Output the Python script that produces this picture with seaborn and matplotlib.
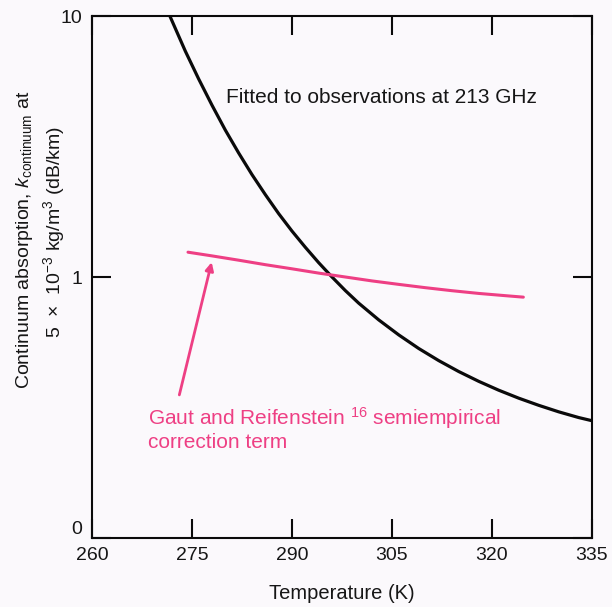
import matplotlib
matplotlib.use("Agg")
import matplotlib.pyplot as plt
from matplotlib.ticker import FixedLocator, FixedFormatter, NullLocator
import seaborn as sns
import pandas as pd

# Continuum absorption fitted to 213 GHz observations
fit_temp = [271.7, 274, 276, 278, 280, 282, 284, 286, 288, 290, 292, 294,
            296, 298, 300, 303, 306, 309, 312, 315, 318, 321, 324, 327,
            330, 333, 335]
fit_k = [10.0, 7.35, 5.75, 4.56, 3.66, 2.99, 2.47, 2.07, 1.75, 1.50, 1.30,
         1.135, 1.00, 0.887, 0.794, 0.685, 0.600, 0.532, 0.478, 0.434,
         0.398, 0.368, 0.343, 0.322, 0.304, 0.289, 0.281]

# Gaut and Reifenstein semiempirical correction term
gr_temp = [274.4, 278, 282, 286, 290, 294, 298, 302, 306, 310, 314, 318,
           322, 324.7]
gr_k = [1.245, 1.205, 1.16, 1.115, 1.075, 1.035, 1.0, 0.966, 0.937, 0.91,
        0.886, 0.865, 0.848, 0.837]

x_ticks = [260, 275, 290, 305, 320, 335]
y_ticks = [0.1, 1, 10]
y_tick_labels = ["0", "1", "10"]

fit_label = "Fitted to observations at 213 GHz"
gr_label_1 = "Gaut and Reifenstein $^{16}$ semiempirical"
gr_label_2 = "correction term"

BLACK = "#0a0a0a"
TEXT = "#161616"
PINK = "#EE3F84"
BG = "#FBF9FC"

sns.set_theme(style="ticks")
plt.rcParams["font.family"] = ["Liberation Sans", "DejaVu Sans"]
plt.rcParams["mathtext.fontset"] = "custom"
plt.rcParams["mathtext.rm"] = "Liberation Sans"
plt.rcParams["mathtext.it"] = "Liberation Sans:italic"
plt.rcParams["mathtext.bf"] = "Liberation Sans:bold"

fig = plt.figure(figsize=(6.12, 6.07), dpi=100, facecolor=BG)
ax = fig.add_axes([92 / 612, 1 - 537.7 / 607, 500 / 612, 521.4 / 607])
ax.set_facecolor(BG)

fit_df = pd.DataFrame({"T": fit_temp, "k": fit_k})
gr_df = pd.DataFrame({"T": gr_temp, "k": gr_k})

sns.lineplot(data=fit_df, x="T", y="k", ax=ax, color=BLACK, lw=2.3,
             estimator=None, sort=False)
sns.lineplot(data=gr_df, x="T", y="k", ax=ax, color=PINK, lw=2.2,
             estimator=None, sort=False)

ax.set_yscale("log")
ax.set_xlim(260, 335)
ax.set_ylim(0.1, 10)

ax.xaxis.set_major_locator(FixedLocator(x_ticks))
ax.yaxis.set_major_locator(FixedLocator(y_ticks))
ax.yaxis.set_major_formatter(FixedFormatter(y_tick_labels))
ax.yaxis.set_minor_locator(NullLocator())
ax.xaxis.set_minor_locator(NullLocator())

ax.tick_params(axis="both", which="major", direction="in", length=14,
               width=1.5, color=BLACK, labelsize=14, labelcolor=TEXT,
               top=True, right=True)
ax.tick_params(axis="x", pad=7)
ax.tick_params(axis="y", pad=7)
for side in ["left", "right", "top", "bottom"]:
    ax.spines[side].set_visible(True)
    ax.spines[side].set_linewidth(1.5)
    ax.spines[side].set_color(BLACK)

# the "0" label sits just above the corner, clear of the "260" below it
for lbl in ax.get_yticklabels():
    if lbl.get_text() == "0":
        lbl.set_verticalalignment("bottom")

ax.set_xlabel("Temperature (K)", fontsize=14.5, color=TEXT, labelpad=14)
ax.set_ylabel("")

fig.text(25 / 612, 1 - 240 / 607,
         "Continuum absorption, $k_{\\mathrm{continuum}}$ at",
         rotation=90, ha="center", va="center", fontsize=14, color=TEXT)
fig.text(54 / 612, 1 - 232 / 607,
         "5  \u00d7  10$^{-3}$ kg/m$^3$ (dB/km)",
         rotation=90, ha="center", va="center", fontsize=14, color=TEXT)

ax.text(280.1, 4.63, fit_label, fontsize=15, color=TEXT,
        ha="left", va="baseline")

ax.text(268.4, 0.271, gr_label_1, fontsize=15, color=PINK,
        ha="left", va="baseline")
ax.text(268.4, 0.221, gr_label_2, fontsize=15, color=PINK,
        ha="left", va="baseline")

ax.annotate("", xy=(277.95, 1.14), xytext=(273.1, 0.353),
            arrowprops=dict(arrowstyle="-|>", color=PINK, lw=2,
                            mutation_scale=12, shrinkA=0, shrinkB=0))

fig.savefig("out.png", dpi=100, facecolor=BG)
